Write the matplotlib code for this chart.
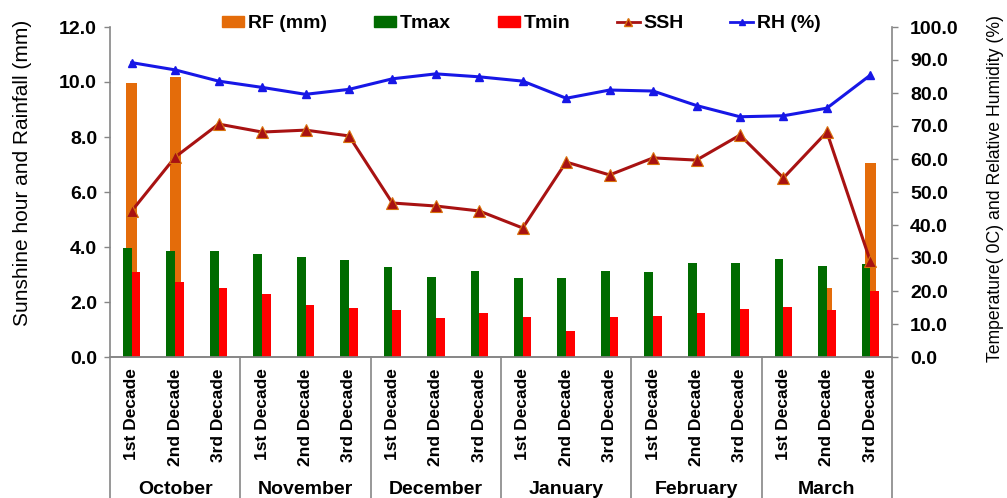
import matplotlib
matplotlib.use("Agg")
import matplotlib.pyplot as plt
import numpy as np
from matplotlib.patches import Patch
from matplotlib.lines import Line2D
from matplotlib.ticker import FormatStrFormatter, MultipleLocator
import matplotlib.transforms as mtransforms

plt.rcParams['font.family'] = ['Liberation Sans', 'DejaVu Sans']

months = ["October", "November", "December", "January", "February", "March"]
decades = ["1st Decade", "2nd Decade", "3rd Decade"] * 6

rf = [9.96, 10.2, 0, 0, 0, 0, 0, 0, 0, 0, 0, 0, 0, 0, 0, 0, 2.5, 7.05]
tmax = [33.1, 32.0, 32.0, 31.2, 30.4, 29.3, 27.2, 24.3, 26.1,
        24.0, 23.8, 26.2, 25.9, 28.5, 28.6, 29.8, 27.5, 28.1]
tmin = [25.8, 22.8, 21.0, 19.2, 15.8, 14.8, 14.2, 11.9, 13.4,
        12.0, 8.0, 12.0, 12.4, 13.3, 14.4, 15.2, 14.3, 20.1]
ssh = [5.31, 7.27, 8.47, 8.18, 8.25, 8.04, 5.60, 5.49, 5.31,
       4.69, 7.09, 6.62, 7.24, 7.16, 8.07, 6.51, 8.18, 3.49]
rh = [89.2, 87.0, 83.6, 81.7, 79.6, 81.1, 84.3, 85.8, 84.9,
      83.6, 78.4, 80.9, 80.6, 76.2, 72.8, 73.1, 75.4, 85.4]

C_RF = '#E46C0A'
C_TMAX = '#006B00'
C_TMIN = '#FF0000'
C_SSH = '#A81212'
C_RH = '#1717E6'
C_AX = '#868686'

fig = plt.figure(figsize=(10.07, 4.98), dpi=100)
ax = fig.add_axes([110/1007, 1-357/498, (892-110)/1007, (357-27)/498])
ax2 = ax.twinx()
ax3 = ax.twinx()

x = np.arange(len(decades))

ax.bar(x, rf, width=0.25, color=C_RF, zorder=2)
ax2.bar(x - 0.1, tmax, width=0.2, color=C_TMAX, zorder=2)
ax2.bar(x + 0.1, tmin, width=0.2, color=C_TMIN, zorder=2)
ax2.plot(x, rh, color=C_RH, lw=2.2, marker='^', ms=6, mfc=C_RH, mec=C_RH, zorder=3)
ax3.plot(x, ssh, color=C_SSH, lw=2.2, marker='^', ms=8, mfc=C_SSH, mec='#D9730D',
         mew=0.8, zorder=3)

ax.set_xlim(-0.5, len(decades) - 0.5)
ax.set_ylim(0, 12)
ax2.set_ylim(0, 100)
ax3.set_ylim(0, 12)
ax3.set_axis_off()

ax.yaxis.set_major_locator(MultipleLocator(2))
ax.yaxis.set_major_formatter(FormatStrFormatter('%.1f'))
ax2.yaxis.set_major_locator(MultipleLocator(10))
ax2.yaxis.set_major_formatter(FormatStrFormatter('%.1f'))

for a in (ax, ax2):
    for s in a.spines.values():
        s.set_color(C_AX)
        s.set_linewidth(1.2)
    a.spines['top'].set_visible(False)
ax.spines['right'].set_visible(False)
ax2.spines['left'].set_visible(False)

ax.tick_params(axis='y', direction='out', length=4.3, width=1, color=C_AX, pad=5,
               labelsize=14)
ax2.tick_params(axis='y', direction='out', length=4, width=1, color=C_AX, pad=9,
                labelsize=14)
for lab in ax.get_yticklabels() + ax2.get_yticklabels():
    lab.set_fontweight('bold')

ax.set_xticks(x)
ax.set_xticklabels(decades, rotation=90, fontsize=12.5, fontweight='bold')
ax.tick_params(axis='x', length=0, pad=8)

trans = mtransforms.blended_transform_factory(ax.transData, ax.transAxes)
ybot = (357 - 498) / 330
for b in np.arange(-0.5, len(decades), 3):
    ax.plot([b, b], [0, ybot], color=C_AX, lw=1.2, transform=trans, clip_on=False)
for i, m in enumerate(months):
    ax.text(3 * i + 1, (357 - 489) / 330, m, transform=trans, ha='center', va='center',
            fontsize=14, fontweight='bold')

ax.set_ylabel("Sunshine hour and Rainfall (mm)", fontsize=15)
ax.yaxis.set_label_coords(-0.10, 0.557)
ax2.set_ylabel("Temperature( 0C) and Relative Humidity (%)", fontsize=12.7)
ax2.yaxis.set_label_coords(1.1215, 0.512)

handles = [
    Patch(color=C_RF, label='RF (mm)'),
    Patch(color=C_TMAX, label='Tmax'),
    Patch(color=C_TMIN, label='Tmin'),
    Line2D([], [], color=C_SSH, lw=2, marker='^', ms=6, mfc=C_SSH, mec='#D9730D', label='SSH'),
    Line2D([], [], color=C_RH, lw=2, marker='^', ms=5, mfc=C_RH, label='RH (%)'),
]
fig.legend(handles=handles, loc='center', bbox_to_anchor=(521/1007, 1-24/498), ncol=5,
           frameon=False, prop={'weight': 'bold', 'size': 14}, handlelength=1.15,
           handleheight=0.5, handletextpad=0.2, columnspacing=2.4)

fig.savefig("out.png", dpi=100)
